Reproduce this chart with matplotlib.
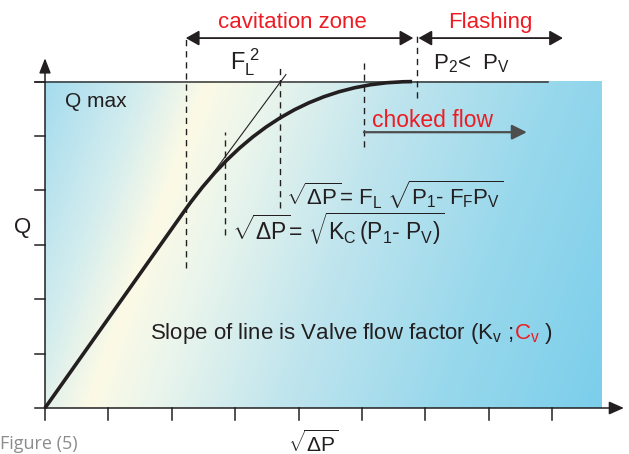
import numpy as np
import matplotlib
matplotlib.use("Agg")
import matplotlib.pyplot as plt
from matplotlib.path import Path
from matplotlib.patches import PathPatch

plt.rcParams['font.family'] = ['Liberation Sans', 'DejaVu Sans']
plt.rcParams['mathtext.fontset'] = 'custom'
plt.rcParams['mathtext.rm'] = 'Liberation Sans'
plt.rcParams['mathtext.it'] = 'Liberation Sans'
plt.rcParams['mathtext.bf'] = 'Liberation Sans:bold'

#data (x = sqrt(dP) in tick units, y = Q in tick units)
x_ticks = [0, 1, 2, 3, 4, 5, 6, 7, 8]
y_ticks = [0, 1, 2, 3, 4, 5, 6]
q_max = 6.0
#flow curve: straight part then bend to Q max
curve_x = [0.0, 2.21, 3.64, 5.79]
curve_y = [0.0, 3.64, 6.0, 6.0]
#thin extension of the linear part
tangent_x = [2.45, 3.80]
tangent_y = [4.00, 6.13]
#dashed markers: x, bottom, top
dash_x = [2.22, 2.84, 3.71, 5.03, 5.87]
dash_lo = [2.57, 3.18, 3.68, 4.80, 5.70]
dash_hi = [6.84, 5.07, 6.25, 6.36, 6.84]
#zone arrows
cav_zone = [2.22, 5.81]
flash_zone = [5.89, 8.17]
choked_zone = [5.03, 7.60]

red = '#ed1c24'
dark = '#231f20'

#pixel layout of the original picture
x0, y0, ux, uy = 45.0, 408.0, 63.4, 54.4

fig = plt.figure(figsize=(6.29, 4.54), dpi=100)
ax = fig.add_axes([0, 0, 1, 1])
ax.set_xlim(-x0 / ux, (629 - x0) / ux)
ax.set_ylim(-(454 - y0) / uy, y0 / uy)
ax.axis('off')

#background gradient (light band running diagonally, blue around it)
bg_right = (602 - x0) / ux
gx, gy = np.meshgrid(np.linspace(0, bg_right, 400), np.linspace(0, q_max, 240))
px = x0 + gx * ux
py = y0 - gy * uy
s = 0.939 * (px - 206) + 0.344 * (py - 84)
stops = [-160, -60, 0, 60, 180, 330, 500]
cols = np.array([(160, 218, 238), (212, 237, 238), (252, 250, 230), (234, 245, 236),
                 (192, 229, 238), (152, 216, 236), (120, 205, 235)]) / 255.0
img = np.dstack([np.interp(s, stops, cols[:, k]) for k in range(3)])
ax.imshow(img, extent=[0, bg_right, 0, q_max], origin='lower', aspect='auto',
          interpolation='bilinear', zorder=0)

#axes with arrows
ax.annotate('', xy=(9.13, 0), xytext=(0, 0),
            arrowprops=dict(arrowstyle='-|>,head_length=0.9,head_width=0.4', mutation_scale=10,
                            lw=1.1, color=dark, shrinkA=0, shrinkB=0), zorder=5)
ax.annotate('', xy=(0, 6.43), xytext=(0, 0),
            arrowprops=dict(arrowstyle='-|>,head_length=0.9,head_width=0.35', mutation_scale=10,
                            lw=1.1, color=dark, shrinkA=0, shrinkB=0), zorder=5)
for t in x_ticks:
    ax.plot([t, t], [0, -0.22], color=dark, lw=1.1, zorder=5)
for t in y_ticks:
    ax.plot([-0.16, 0], [t, t], color=dark, lw=1.1, zorder=5)

#Q max line
ax.plot([-0.16, 7.93], [q_max, q_max], color='#333333', lw=1.1, zorder=3)

#dashed markers
for xd, lo, hi in zip(dash_x, dash_lo, dash_hi):
    ax.plot([xd, xd], [lo, hi], color=dark, lw=1.0, dashes=(4.5, 3.5), zorder=3)

#curve
path = Path(list(zip(curve_x, curve_y)), [Path.MOVETO, Path.LINETO, Path.CURVE3, Path.CURVE3])
ax.add_patch(PathPatch(path, facecolor='none', edgecolor=dark, lw=2.6, zorder=4,
                       capstyle='butt'))
ax.plot(tangent_x, tangent_y, color=dark, lw=0.8, zorder=4)

#zone arrows
two = dict(arrowstyle='<|-|>,head_length=0.8,head_width=0.45', mutation_scale=10,
           lw=1.3, color=dark, shrinkA=0, shrinkB=0)
ax.annotate('', xy=(cav_zone[1], 6.80), xytext=(cav_zone[0], 6.80), arrowprops=two)
ax.annotate('', xy=(flash_zone[1], 6.80), xytext=(flash_zone[0], 6.80), arrowprops=two)
ax.annotate('', xy=(choked_zone[1], 5.07), xytext=(choked_zone[0], 5.07),
            arrowprops=dict(arrowstyle='-|>,head_length=0.9,head_width=0.45', mutation_scale=10,
                            lw=1.6, color='#4d4d4d', shrinkA=0, shrinkB=0))

#labels
ax.text(3.896, 6.985, 'cavitation zone', color=red, fontsize=16, ha='center', va='baseline')
ax.text(7.02, 6.985, 'Flashing', color=red, fontsize=16, ha='center', va='baseline')
ax.text(2.918, 6.23, r'F$_\mathregular{L}^{\ \mathregular{2}}$', color=dark, fontsize=17,
        ha='left', va='baseline')
ax.text(6.12, 6.23, r'P$_\mathregular{2}$<  P$_\mathregular{V}$', color=dark, fontsize=16,
        ha='left', va='baseline')
ax.text(0.315, 5.533, 'Q max', color=dark, fontsize=15, ha='left', va='baseline')
ax.text(-0.352, 3.327, 'Q', color=dark, fontsize=16, ha='center', va='center')
ax.text(5.158, 5.165, 'choked flow', color=red, fontsize=16.5, ha='left', va='baseline')

ax.text(3.80, 3.73, r'$\sqrt{\Delta P}$= F$_L$ $\sqrt{P_1\text{- }F_F P_V}$', color=dark,
        fontsize=16, ha='left', va='baseline')
ax.text(2.95, 3.09, r'$\sqrt{\Delta P}$= $\sqrt{K_C\,(P_1\text{- }P_V)}$', color=dark,
        fontsize=16.5, ha='left', va='baseline')

t1 = ax.text(1.656, 1.268, r'Slope of line is Valve flow factor (K$_v$ ;', color=dark,
             fontsize=16, ha='left', va='baseline')
t2 = ax.annotate(r'C$_v$', xy=(1, 1.268), xycoords=(t1, 'data'), color=red, fontsize=16,
                 ha='left', va='baseline')
ax.annotate(' )', xy=(1, 1.268), xycoords=(t2, 'data'), color=dark, fontsize=16,
            ha='left', va='baseline')

ax.text(4.227, -0.80, r'$\sqrt{\Delta P}$', color=dark, fontsize=15, ha='center', va='baseline')
ax.text(0.52, -0.76, 'Figure (5)', color='#8c8c8c', fontsize=13, family=['Open Sans', 'DejaVu Sans'],
        ha='right', va='baseline')

plt.savefig('out.png', dpi=100)
